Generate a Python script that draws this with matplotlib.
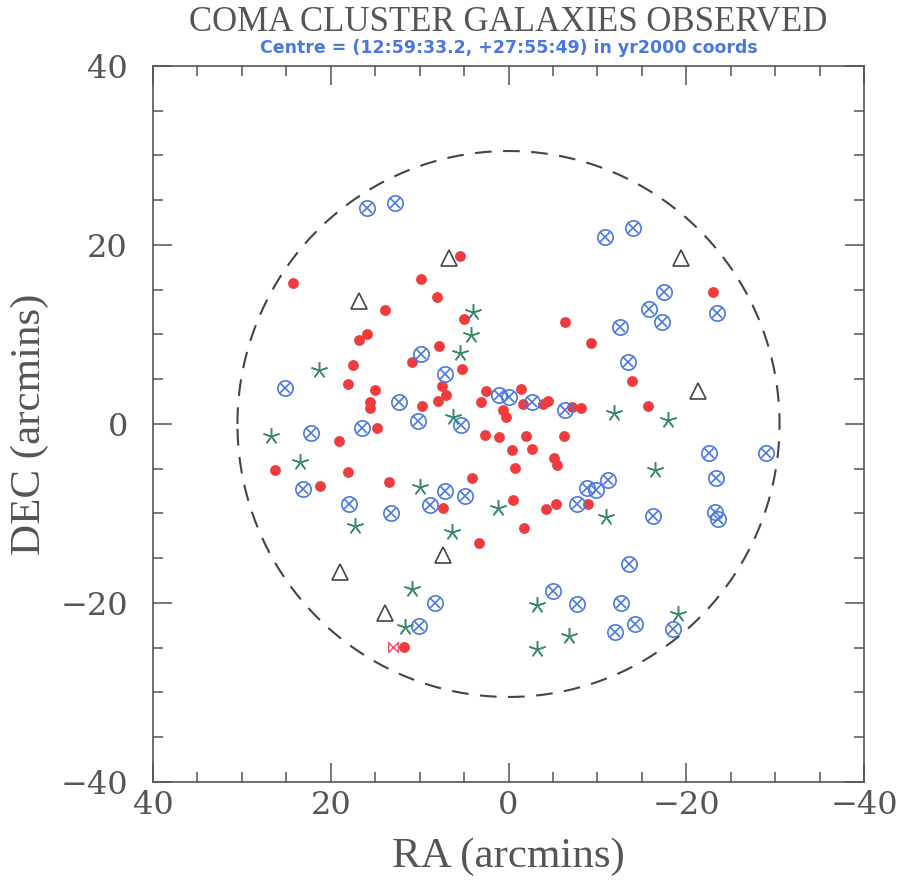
import numpy as np
import matplotlib
matplotlib.use("Agg")
from matplotlib import pyplot as plt
from matplotlib.path import Path
from matplotlib.ticker import MultipleLocator

# galaxy positions (RA offset, DEC offset) in arcmins
red_ra = [24.3, 5.5, 9.9, 8.0, 13.9, 5.0, 15.9, 16.8, 7.8, 17.5, 10.9, 5.2, 18.1, 15.0,
          7.5, 7.0, 7.9, 15.6, 15.6, 9.7, 3.1, 2.5, 0.65, 0.3, 14.8, -23.0, -6.4, -9.3,
          -13.9, -15.7, -1.4, -1.6, -3.9, -4.4, -7.1, -8.2, 19.1, 2.6, 1.1, -2.0, -6.2,
          -0.4, -2.7, -5.1, -5.5, -0.7, 18.1, 13.4, 4.1, -0.5, 7.4, -4.2, -5.4, -9.0,
          -1.7, 3.3, 26.3, 21.2, 11.8]
red_dec = [15.7, 18.8, 16.2, 14.2, 12.7, 11.7, 10.1, 9.4, 8.7, 6.6, 6.9, 6.1, 4.5, 3.8,
           4.2, 3.2, 2.6, 2.4, 1.75, 2.0, 2.5, 3.7, 1.6, 0.8, -0.4, 14.7, 11.4, 9.0,
           4.8, 2.0, 3.9, 2.2, 2.2, 2.6, 1.9, 1.8, -1.9, -1.2, -1.5, -1.3, -1.3,
           -2.9, -2.8, -3.8, -4.6, -4.9, -5.4, -6.5, -6.0, -8.5, -9.4, -9.5, -8.9, -8.9,
           -11.6, -13.3, -5.1, -6.9, -24.9]

blue_ra = [15.9, 12.8, 25.2, 9.8, 7.2, 12.3, 1.1, 0.0, 10.2, 5.3, 16.5, 22.2, -2.6, -6.4,
           18.0, 13.2, 7.2, 8.8, 4.9, -8.8, -9.8, -7.7, -11.2, 23.1, 8.3, 10.1, -10.9,
           -14.0, -17.5, -15.8, -17.3, -23.5, -12.5, -13.5, -22.6, -29.0, -23.4, -16.3,
           -23.2, -23.6, -13.6, -5.0, -7.7, -12.7, -14.2, -12.0, -18.5]
blue_dec = [24.1, 24.7, 4.0, 7.8, 5.6, 2.4, 3.2, 3.0, 0.3, -0.1, -0.5, -1.0, 2.5, 1.6,
            -8.9, -9.9, -7.5, -9.0, -8.1, -7.2, -7.4, -8.9, -6.3, -7.3, -20.0, -22.6, 20.9,
            21.9, 14.8, 12.8, 11.4, 12.4, 10.8, 6.9, -3.2, -3.2, -6.0, -10.3,
            -9.8, -10.6, -15.6, -18.7, -20.1, -20.0, -22.3, -23.2, -22.9]

green_ra = [4.0, 4.2, 5.5, 21.3, 6.2, -11.9, -18.0, 26.7, 23.5, 10.0, 1.2, 17.3, 6.4,
            10.9, 11.6, -16.5, -11.0, -3.2, -6.8, -3.2, -19.1]
green_dec = [12.5, 9.9, 7.9, 6.0, 0.8, 1.2, 0.5, -1.3, -4.3, -7.0, -9.4, -11.4, -12.1,
             -18.4, -22.7, -5.1, -10.4, -20.2, -23.7, -25.1, -21.2]

tri_ra = [6.7, 16.8, -19.4, -21.3, 7.4, 19.0, 13.9]
tri_dec = [18.5, 13.7, 18.6, 3.7, -14.6, -16.5, -21.1]

bow_ra = [13.0]
bow_dec = [-24.9]

field_radius = 30.5

gray = '#555555'
serif = 'DejaVu Serif'

fig = plt.figure(figsize=(9, 8.82), dpi=100)
ax = fig.add_axes([0.17, 0.1134, 0.79, 0.8118])

# field of view
th = np.linspace(0, 2 * np.pi, 400)
ax.plot(field_radius * np.cos(th), field_radius * np.sin(th), color='#444444',
        lw=1.5, dashes=(8, 5.5))

ax.plot(red_ra, red_dec, 'o', ms=7.8, color='#f03c3c', mec='none')
ax.plot(blue_ra, blue_dec, 'o', ms=11, mfc='none', mec='#4a78e0', mew=1.2)
ax.plot(blue_ra, blue_dec, 'x', ms=7.6, color='#4a78e0', mew=1.2)
ax.plot(green_ra, green_dec, marker=(5, 2, 0), ls='none', ms=12, color='#3a8a6c', mew=1.1)
ax.plot(tri_ra, tri_dec, '^', ms=11, mfc='none', mec='#444444', mew=1.2)
bowtie = Path([(-1, -1), (-1, 1), (1, -1), (1, 1), (-1, -1)])
ax.plot(bow_ra, bow_dec, marker=bowtie, ls='none', ms=7, mfc='none', mec='#ee5577', mew=1.1)

ax.set_xlim(40, -40)
ax.set_ylim(-40, 40)
ax.xaxis.set_major_locator(MultipleLocator(20))
ax.yaxis.set_major_locator(MultipleLocator(20))
ax.xaxis.set_minor_locator(MultipleLocator(5))
ax.yaxis.set_minor_locator(MultipleLocator(5))
ax.tick_params(which='both', direction='in', top=True, right=True, color=gray,
               width=1.1, labelcolor=gray, labelsize=23)
ax.tick_params(axis='x', which='major', pad=6)
ax.tick_params(axis='y', which='major', pad=18)
ax.tick_params(which='major', length=14)
ax.tick_params(which='minor', length=7)
for lab in ax.get_xticklabels() + ax.get_yticklabels():
    lab.set_family(serif)
for s in ax.spines.values():
    s.set_color(gray)
    s.set_linewidth(1.2)

ax.set_xlabel('RA (arcmins)', fontsize=31, color=gray, family='Liberation Serif', va='center')
ax.set_ylabel('DEC (arcmins)', fontsize=31, color=gray, family='Liberation Serif', va='center')
ax.xaxis.set_label_coords(0.5, -0.105)
ax.yaxis.set_label_coords(-0.173, 0.5)

fig.text(0.565, 0.975, 'COMA CLUSTER GALAXIES OBSERVED', ha='center', va='center',
         fontsize=25, color=gray, family='Liberation Serif')
fig.text(0.565, 0.946, 'Centre = (12:59:33.2, +27:55:49) in yr2000 coords', ha='center',
         va='center', fontsize=12.5, color='#4a78e0', weight='bold', family='DejaVu Sans')

fig.savefig('out.png', dpi=100)
